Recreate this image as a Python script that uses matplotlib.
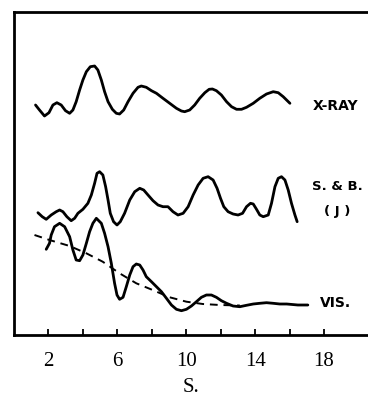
import matplotlib
matplotlib.use("Agg")
import matplotlib.pyplot as plt

# X-RAY curve
xray_s = [1.25, 1.48, 1.77, 2.03, 2.26, 2.49, 2.74, 2.99, 3.23, 3.42, 3.61, 3.81, 4.00, 4.20,
          4.43, 4.68, 4.87, 5.07, 5.26, 5.46, 5.71, 5.94, 6.13, 6.37, 6.62, 6.91, 7.20, 7.39,
          7.68, 7.98, 8.27, 8.65, 9.04, 9.43, 9.72, 9.91, 10.20, 10.49, 10.78, 11.08, 11.33,
          11.52, 11.75, 12.04, 12.34, 12.63, 12.92, 13.21, 13.50, 13.89, 14.27, 14.66, 15.05,
          15.34, 15.63, 16.02]
xray_v = [230, 225, 219, 222.3, 230, 232.3, 230, 224.3, 221.7, 225, 233.3, 245, 255, 263.3,
          268.3, 269, 265, 255, 243.3, 233.3, 225.7, 221.7, 221, 225, 233.3, 241.7, 247.7, 249,
          247.7, 244.3, 241.7, 236.7, 231.7, 226.7, 224, 223.3, 225, 230, 236.7, 242.3, 245.7,
          246, 244.3, 240, 233.3, 228.3, 225.7, 225.7, 227.7, 231.7, 236.7, 241, 243.3,
          242.3, 238.3, 231.7]

# S. & B. (J) curve
sb_s = [1.39, 1.64, 1.87, 2.16, 2.45, 2.65, 2.84, 3.07, 3.32, 3.52, 3.71, 4.00, 4.29, 4.49,
        4.68, 4.82, 4.97, 5.16, 5.32, 5.46, 5.59, 5.78, 5.98, 6.17, 6.42, 6.72, 7.01, 7.30,
        7.53, 7.78, 8.07, 8.36, 8.65, 8.94, 9.23, 9.52, 9.82, 10.11, 10.40, 10.69, 10.98,
        11.27, 11.56, 11.79, 11.99, 12.18, 12.43, 12.72, 13.01, 13.27, 13.50, 13.73, 13.89,
        14.08, 14.27, 14.47, 14.76, 14.95, 15.15, 15.34, 15.53, 15.73, 15.92, 16.11, 16.31,
        16.44]
sb_v = [122.3, 118.3, 115.7, 120, 123.3, 125, 123.3, 118.3, 114.3, 116.7, 121.7, 125.7, 131.7,
        140, 151.7, 161.7, 163.3, 160, 148.3, 135, 121.7, 113.3, 110, 113.3, 121.7, 135, 143.3,
        146.7, 145, 140, 134.3, 130, 128.3, 128.3, 123.3, 120, 121.7, 128.3, 140, 150, 156.7,
        158.3, 155, 146.7, 136.7, 128.3, 123.3, 121, 120, 121.7, 128.3, 131.7, 131, 125.7,
        120, 118.3, 120, 131.7, 148.3, 156.7, 158.3, 155, 145, 131.7, 120, 113.3]

# VIS. curve
vis_s = [1.87, 2.06, 2.16, 2.35, 2.65, 2.94, 3.23, 3.42, 3.61, 3.81, 4.00, 4.20, 4.39, 4.58,
         4.78, 5.07, 5.26, 5.46, 5.65, 5.84, 5.98, 6.13, 6.33, 6.52, 6.72, 6.91, 7.10, 7.30,
         7.49, 7.68, 7.98, 8.27, 8.56, 8.85, 9.14, 9.43, 9.72, 10.01, 10.30, 10.59, 10.88,
         11.17, 11.46, 11.75, 12.04, 12.34, 12.72, 13.11, 13.50, 13.89, 14.27, 14.66, 15.05,
         15.43, 15.83, 16.48, 17.06]
vis_v = [85.7, 91.7, 100, 108.3, 111.7, 108.3, 98.3, 85, 75, 74.3, 80, 91.7, 103.3, 111.7,
         116.7, 111.7, 101.7, 88.3, 71.7, 51.7, 40, 35.7, 37.7, 48.3, 60, 68.3, 71, 70,
         65, 58.3, 53.3, 48.3, 43.3, 36.7, 30, 25.7, 24.3, 25.7, 29, 33.3, 37.7,
         40, 40, 37.7, 34.3, 31.7, 29, 28.3, 29.7, 31, 31.7, 32.3, 31.7,
         31, 31, 30, 30]

# dashed background curve
bg_s = [1.19, 2.06, 3.23, 4.20, 5.15, 6.13, 7.10, 8.05, 9.04, 10.01, 10.96, 11.95, 13.11]
bg_v = [100, 95, 89, 81.7, 73.3, 61.7, 51.7, 45, 37.7, 33.3, 31, 30, 29.5]

major_ticks = [2, 6, 10, 14, 18]
minor_ticks = [4, 8, 12, 16]
curve_labels = ["X-RAY", "S. & B.", "( J )", "VIS."]

fig = plt.figure(figsize=(3.68, 3.97), dpi=100)
ax = fig.add_axes([14 / 368, 62 / 397, 1 - 14 / 368, 323 / 397])

lw = 2.0
ax.plot(xray_s, xray_v, color="black", lw=lw, solid_capstyle="round", solid_joinstyle="round")
ax.plot(sb_s, sb_v, color="black", lw=lw, solid_capstyle="round", solid_joinstyle="round")
ax.plot(vis_s, vis_v, color="black", lw=lw, solid_capstyle="round", solid_joinstyle="round")
ax.plot(bg_s, bg_v, color="black", lw=1.4, ls=(0, (4, 3)))

ax.set_xlim(0, (368 - 14.5) / 17.2)
ax.set_ylim(0, 323)

for side in ["left", "bottom", "top"]:
    ax.spines[side].set_linewidth(2.0)
ax.spines["right"].set_visible(False)

ax.set_yticks([])
ax.set_xticks(major_ticks)
ax.set_xticks(minor_ticks, minor=True)
ax.set_xticklabels([str(t) for t in major_ticks])
ax.tick_params(axis="x", which="both", direction="in", length=4.5, width=1.3, pad=12.5,
               labelsize=15)
for lab in ax.get_xticklabels():
    lab.set_fontfamily("Liberation Serif")

ax.set_xlabel("S.", fontfamily="Liberation Serif", fontsize=15, labelpad=5)

lab_kw = dict(fontweight="bold", ha="center", va="center", fontfamily="DejaVu Sans")
ax.text(18.69, 229, curve_labels[0], fontsize=10, **lab_kw)
ax.text(18.75, 148, curve_labels[1], fontsize=9.5, **lab_kw)
ax.text(18.75, 123, curve_labels[2], fontsize=9.5, **lab_kw)
ax.text(18.69, 32, curve_labels[3], fontsize=10, **lab_kw)

fig.savefig("out.png", dpi=100)
